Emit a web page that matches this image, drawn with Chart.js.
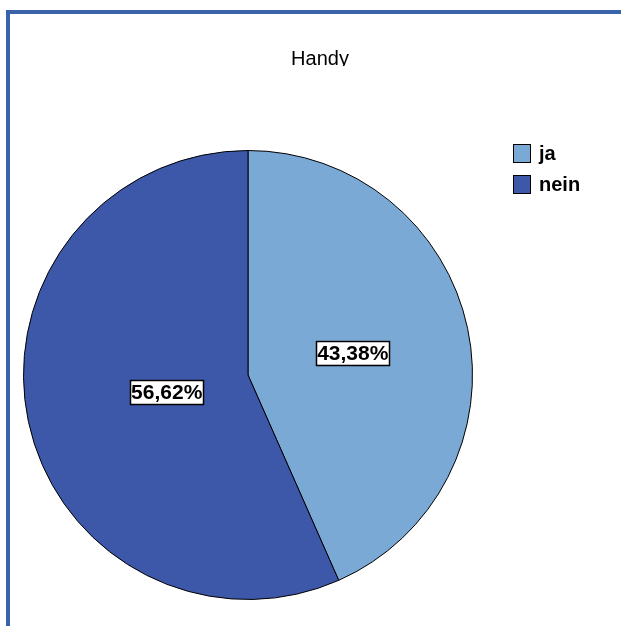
<!DOCTYPE html>
<html>
<head>
<meta charset="utf-8">
<script src="https://cdn.jsdelivr.net/npm/chart.js@4/dist/chart.umd.min.js"></script>
<style>
  html, body { margin:0; padding:0; background:#fff; }
  #wrap { position:relative; width:621px; height:626px; }
  #rahmen { position:absolute; left:6px; top:10px; right:0; bottom:0;
            border-top:4px solid #3b63a9; border-left:4px solid #3b63a9; }
  canvas { position:absolute; left:0; top:0; }
</style>
</head>
<body>
<div id="wrap">
  <div id="rahmen"></div>
  <canvas id="handy" width="621" height="626"></canvas>
</div>
<script>
// ----------------- DATEN -----------------
const kategorien = ['ja', 'nein'];
const prozente = [43.38, 56.62];
const farben = ['#7aa9d6', '#3e58a9'];
const titel = 'Handy';

// ----------------- BESCHRIFTUNGEN (Titel, Legende, Prozentwerte) -----------------
const beschriftung = {
  id: 'beschriftung',
  afterDraw(chart) {
    const ctx = chart.ctx;
    ctx.save();

    // Titel (unten abgeschnitten wie im Original)
    ctx.save();
    ctx.beginPath();
    ctx.rect(0, 0, chart.width, 66);
    ctx.clip();
    ctx.fillStyle = '#000';
    ctx.font = '20px "Liberation Sans", Arial, sans-serif';
    ctx.textAlign = 'center';
    ctx.textBaseline = 'alphabetic';
    ctx.fillText(titel, 320, 65);
    ctx.restore();

    // Legende
    ctx.font = 'bold 20px "Liberation Sans", Arial, sans-serif';
    ctx.textBaseline = 'middle';
    ctx.textAlign = 'left';
    kategorien.forEach((k, i) => {
      const y = 153 + i * 31;
      ctx.fillStyle = farben[i];
      ctx.fillRect(513, y - 9, 18, 19);
      ctx.strokeStyle = '#000';
      ctx.lineWidth = 1;
      ctx.strokeRect(513.5, y - 8.5, 17, 18);
      ctx.fillStyle = '#000';
      ctx.fillText(k, 539, y + 1);
    });

    // Prozentwerte in weissen Kaesten
    const faktor = [0.477, 0.37];
    const meta = chart.getDatasetMeta(0);
    ctx.font = 'bold 21px "Liberation Sans", Arial, sans-serif';
    ctx.textAlign = 'center';
    meta.data.forEach((arc, i) => {
      const p = arc.getProps(['x', 'y', 'startAngle', 'endAngle', 'outerRadius']);
      const mitte = (p.startAngle + p.endAngle) / 2;
      const r = p.outerRadius * faktor[i];
      const x = p.x + Math.cos(mitte) * r;
      const y = p.y + Math.sin(mitte) * r;
      const txt = prozente[i].toFixed(2).replace('.', ',') + '%';
      const w = ctx.measureText(txt).width + 2;
      const h = 24;
      ctx.fillStyle = '#fff';
      ctx.fillRect(x - w / 2, y - h / 2, w, h);
      ctx.strokeStyle = '#000';
      ctx.lineWidth = 1.5;
      ctx.strokeRect(Math.round(x - w / 2) + 0.5, Math.round(y - h / 2) + 0.5, Math.round(w), h);
      ctx.fillStyle = '#000';
      ctx.fillText(txt, x, y + 1);
    });

    ctx.restore();
  }
};

// ----------------- GRAFIK -----------------
new Chart(document.getElementById('handy'), {
  type: 'pie',
  data: {
    labels: kategorien,
    datasets: [{
      data: prozente,
      backgroundColor: farben,
      borderColor: '#000',
      borderWidth: 1
    }]
  },
  options: {
    responsive: false,
    animation: false,
    layout: { padding: { top: 150, bottom: 26, left: 23, right: 148 } },
    plugins: {
      legend: { display: false },
      title: { display: false },
      tooltip: { enabled: false }
    }
  },
  plugins: [beschriftung]
});
</script>
</body>
</html>
